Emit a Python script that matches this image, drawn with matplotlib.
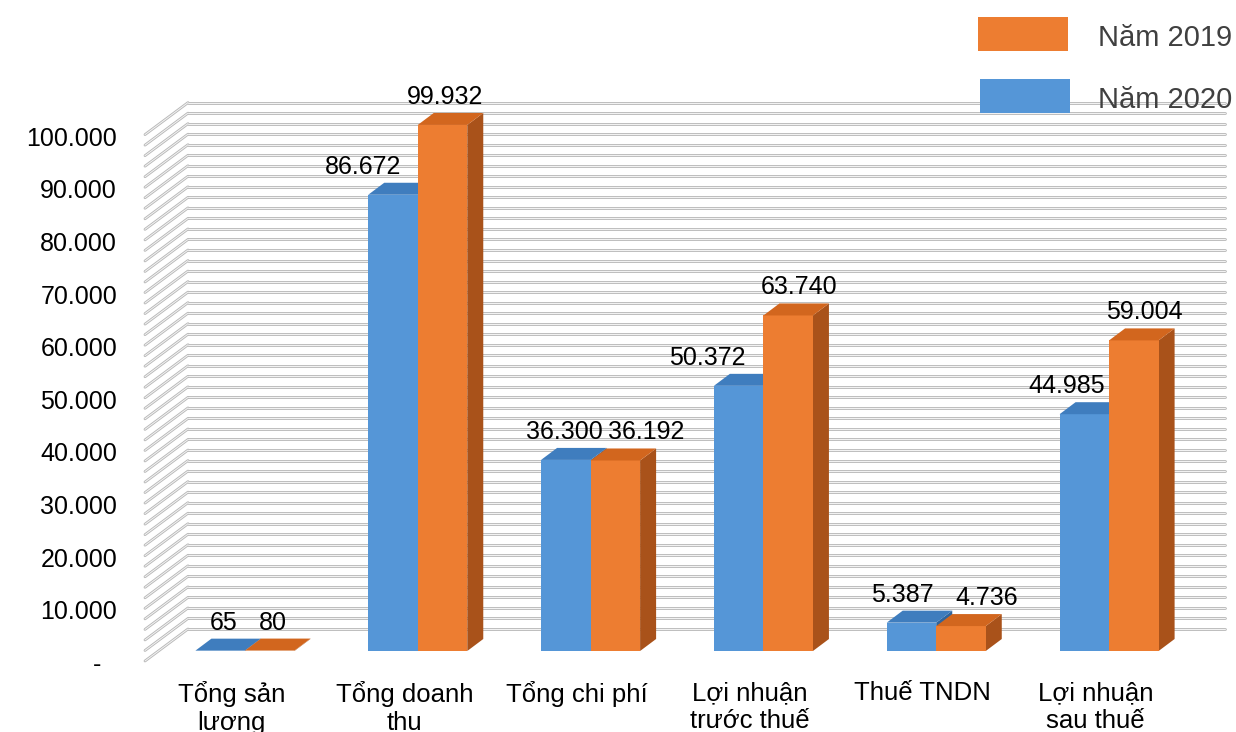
import matplotlib
matplotlib.use("Agg")
import matplotlib.pyplot as plt
from matplotlib.patches import Polygon, Rectangle
import numpy as np

plt.rcParams['font.family'] = ['Liberation Sans', 'DejaVu Sans']

# ---- data ----
categories = ["Tổng sản\nlượng", "Tổng doanh\nthu", "Tổng chi phí",
              "Lợi nhuận\ntrước thuế", "Thuế TNDN", "Lợi nhuận\nsau thuế"]
values_2020 = [65, 86672, 36300, 50372, 5387, 44985]
values_2019 = [80, 99932, 36192, 63740, 4736, 59004]
value_labels_2020 = ["65", "86.672", "36.300", "50.372", "5.387", "44.985"]
value_labels_2019 = ["80", "99.932", "36.192", "63.740", "4.736", "59.004"]
tick_values = [0, 10000, 20000, 30000, 40000, 50000, 60000, 70000, 80000, 90000, 100000]
tick_labels = ["-", "10.000", "20.000", "30.000", "40.000", "50.000",
               "60.000", "70.000", "80.000", "90.000", "100.000"]
series_names = ["Năm 2019", "Năm 2020"]

# ---- style ----
W, H = 1236, 732
BLUE, BLUE_TOP, BLUE_SIDE = "#5596D7", "#3F7DBE", "#2F649C"
ORANGE, ORANGE_TOP, ORANGE_SIDE = "#ED7D31", "#D2661E", "#A9521A"
FS_TICK = 18
FS_VAL = 18
FS_CAT = 18.5
bar_w = 0.2865
depth_px = (16, 12)          # bar depth (right, up)
back_px = (29.5, 22)         # back wall relative to bar plane
front_px = (-13.5, -10)      # front edge of side wall relative to bar plane
grid_step = 2000
# label nudges in pixels (x)
nudge_2020 = [-4.5, -38, -9, -39, -17.5, -26]
nudge_2019 = [-5, -5.5, 23, 3, 18, 3]

fig = plt.figure(figsize=(W / 100, H / 100), dpi=100)
ax = fig.add_axes([158.5 / W, 81 / H, 1037 / W, 526.4 / H])
ax.set_xlim(-0.5, 5.5)
ax.set_ylim(0, 100000)
ax.axis("off")

# pixel -> data unit conversion
sx = 6 / 1037.0
sy = 100000 / 526.4


def off(p):
    return p[0] * sx, p[1] * sy


dxd, dyd = off(depth_px)
bx, by = off(back_px)
fx, fy = off(front_px)

# back wall and side wall grid lines (tube look)
x_left, x_right = ax.get_xlim()
for v in np.arange(0, 100000 + 1, grid_step):
    xs_back = [x_left + bx, x_right + bx]
    ys_back = [v + by, v + by]
    xs_side = [x_left + fx, x_left + bx]
    ys_side = [v + fy, v + by]
    for xs, ys in ((xs_back, ys_back), (xs_side, ys_side)):
        ax.plot(xs, ys, color="#B8B8B8", lw=2.0, solid_capstyle="round",
                zorder=1, clip_on=False)
        ax.plot(xs, ys, color="#F4F4F4", lw=0.7, solid_capstyle="round",
                zorder=1.1, clip_on=False)


def draw_bar(x0, v, front, top, side, z):
    x1 = x0 + bar_w
    ax.add_patch(Polygon([(x1, 0), (x1 + dxd, dyd), (x1 + dxd, v + dyd), (x1, v)],
                         closed=True, facecolor=side, edgecolor="none",
                         zorder=z, clip_on=False))
    ax.add_patch(Rectangle((x0, 0), bar_w, v, facecolor=front, edgecolor="none",
                           zorder=z + 0.1, clip_on=False))
    ax.add_patch(Polygon([(x0, v), (x1, v), (x1 + dxd, v + dyd), (x0 + dxd, v + dyd)],
                         closed=True, facecolor=top, edgecolor="none",
                         zorder=z + 0.2, clip_on=False))


for i in range(len(categories)):
    draw_bar(i - bar_w, values_2020[i], BLUE, BLUE_TOP, BLUE_SIDE, 3)
    draw_bar(i, values_2019[i], ORANGE, ORANGE_TOP, ORANGE_SIDE, 4)

    for x0, v, lab, nd in ((i - bar_w, values_2020[i], value_labels_2020[i], nudge_2020[i]),
                           (i, values_2019[i], value_labels_2019[i], nudge_2019[i])):
        cx = x0 + bar_w / 2 + (8 + nd) * sx
        ax.text(cx, v + 28 * sy, lab, ha="center", va="center", fontsize=FS_VAL,
                color="black", zorder=6)

    ax.text(i + fx, fy - 20 * sy, categories[i], ha="center",
            va="top", fontsize=FS_CAT, color="black", linespacing=1.2, zorder=6)

# value axis labels along the front edge
for v, lab in zip(tick_values, tick_labels):
    y = v + fy - 4 * sy
    if lab == "-":
        ax.text(x_left + fx - 48 * sx, y, lab, ha="center", va="center",
                fontsize=FS_TICK, color="black")
    else:
        ax.text(x_left + fx - 28 * sx, y, lab, ha="right", va="center",
                fontsize=FS_TICK, color="black")

# legend
leg = [(series_names[0], ORANGE, 978, 17), (series_names[1], BLUE, 980, 79)]
for name, col, lx, ly in leg:
    fig.patches.append(Rectangle((lx / W, 1 - (ly + 34) / H), 90 / W, 34 / H,
                                 transform=fig.transFigure, facecolor=col,
                                 edgecolor="none", zorder=5))
    fig.text(1098 / W, 1 - (ly + 21) / H, name, ha="left", va="center",
             fontsize=21, color="#404040", zorder=6)

fig.savefig("out.png", dpi=100, facecolor="white")
